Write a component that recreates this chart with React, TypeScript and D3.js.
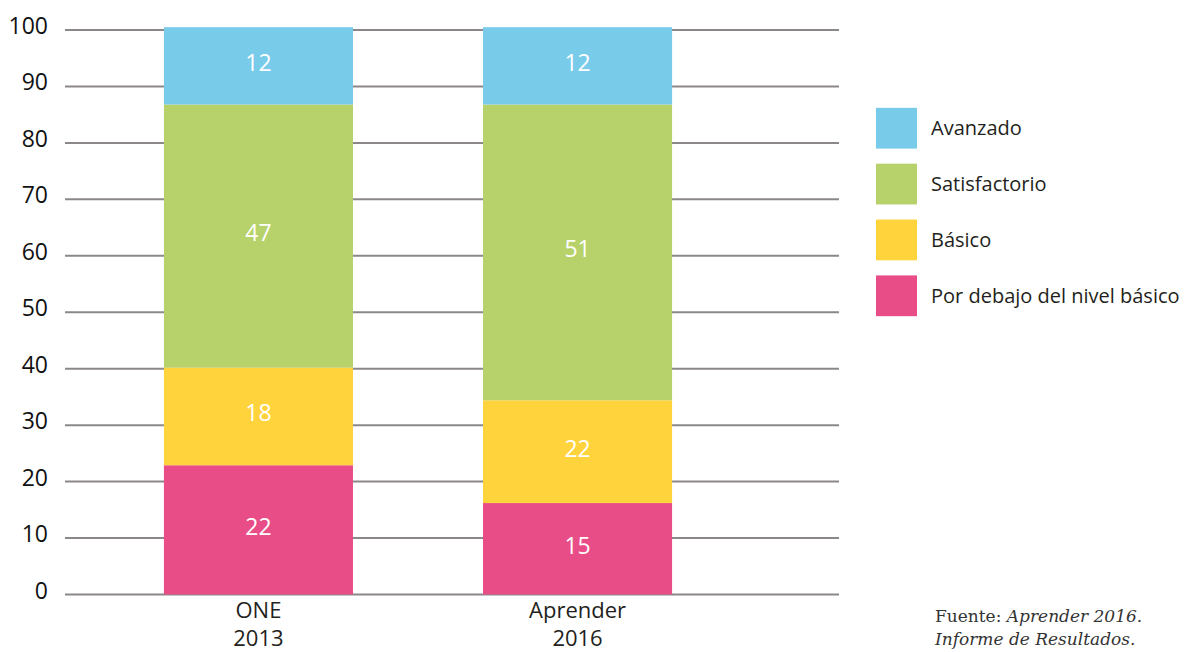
import React from "react";
import * as d3 from "d3";

// ---- data ----
const categories = ["ONE|2013", "Aprender|2016"];
const levels = ["Por debajo del nivel básico", "Básico", "Satisfactorio", "Avanzado"];
const legendOrder = ["Avanzado", "Satisfactorio", "Básico", "Por debajo del nivel básico"];
const colors = ["#E94D87", "#FFD33C", "#B7D26B", "#79CBEA"];
// printed labels on the segments (bottom → top)
const oneLabels = [22, 18, 47, 12];
const aprenderLabels = [15, 22, 51, 12];
// segment heights as drawn in the graphic (bottom → top)
const oneHeights = [22.9, 17.3, 46.6, 13.7];
const aprenderHeights = [16.2, 18.2, 52.4, 13.7];
const yTicks = [0, 10, 20, 30, 40, 50, 60, 70, 80, 90, 100];
const sourceLine1 = ["Fuente: ", "Aprender 2016."];
const sourceLine2 = "Informe de Resultados.";

const W = 1184;
const H = 652;
const font = "'Open Sans', 'Noto Sans', sans-serif";
const serif = "'DejaVu Serif', 'Liberation Serif', serif";

export default function App() {
  const y = d3.scaleLinear().domain([0, 100]).range([594.5, 30]);
  const x = d3
    .scaleBand<string>()
    .domain(categories)
    .range([65, 771])
    .paddingInner(0.4075)
    .paddingOuter(0.31);
  const gridX0 = 65;
  const gridX1 = 839;

  const series = [
    { cat: categories[0], heights: oneHeights, labels: oneLabels },
    { cat: categories[1], heights: aprenderHeights, labels: aprenderLabels },
  ];

  const legendY = d3
    .scaleBand<string>()
    .domain(legendOrder)
    .range([100, 324])
    .paddingInner(0.27)
    .paddingOuter(0.14);

  return (
    <div style={{ position: "absolute", left: 0, top: 0 }}>
      <svg width={W} height={H} style={{ display: "block", background: "#fff" }}>
        {/* gridlines */}
        {yTicks.map((t) => (
          <g key={t}>
            <line x1={gridX0} x2={gridX1} y1={y(t)} y2={y(t)} stroke="#8c8889" strokeWidth={2} />
            <text x={48} y={y(t) + 4} textAnchor="end" fontFamily={font} fontSize={23} fill="#111">
              {t}
            </text>
          </g>
        ))}
        {/* bars */}
        {series.map((s) => {
          let acc = 0;
          return (
            <g key={s.cat}>
              {s.heights.map((h, i) => {
                const y0 = acc;
                const y1 = acc + h;
                acc = y1;
                const top = y(y1);
                const bot = y(y0);
                return (
                  <g key={i}>
                    <rect x={x(s.cat)} y={top} width={x.bandwidth()} height={bot - top} fill={colors[i]} />
                    <text
                      x={(x(s.cat) as number) + x.bandwidth() / 2}
                      y={(top + bot) / 2 - 3}
                      dy="0.35em"
                      textAnchor="middle"
                      fontFamily={font}
                      fontSize={23}
                      fill="#fff"
                    >
                      {s.labels[i]}
                    </text>
                  </g>
                );
              })}
              {s.cat.split("|").map((line, j) => (
                <text
                  key={j}
                  x={(x(s.cat) as number) + x.bandwidth() / 2}
                  y={618 + j * 28}
                  textAnchor="middle"
                  fontFamily={font}
                  fontSize={22}
                  fill="#231f20"
                >
                  {line}
                </text>
              ))}
            </g>
          );
        })}
        {/* legend */}
        {legendOrder.map((name) => {
          const i = levels.indexOf(name);
          const yy = legendY(name) as number;
          const sz = legendY.bandwidth();
          return (
            <g key={name}>
              <rect x={876} y={yy} width={41} height={sz} fill={colors[i]} />
              <text x={931} y={yy + sz / 2 + 7} fontFamily={font} fontSize={20} fill="#231f20">
                {name}
              </text>
            </g>
          );
        })}
        {/* source */}
        <text x={935} y={622} fontFamily={serif} fontSize={17} fill="#333">
          {sourceLine1[0]}
          <tspan fontStyle="italic">{sourceLine1[1]}</tspan>
        </text>
        <text x={935} y={645} fontFamily={serif} fontSize={17} fill="#333" fontStyle="italic">
          {sourceLine2}
        </text>
      </svg>
    </div>
  );
}
